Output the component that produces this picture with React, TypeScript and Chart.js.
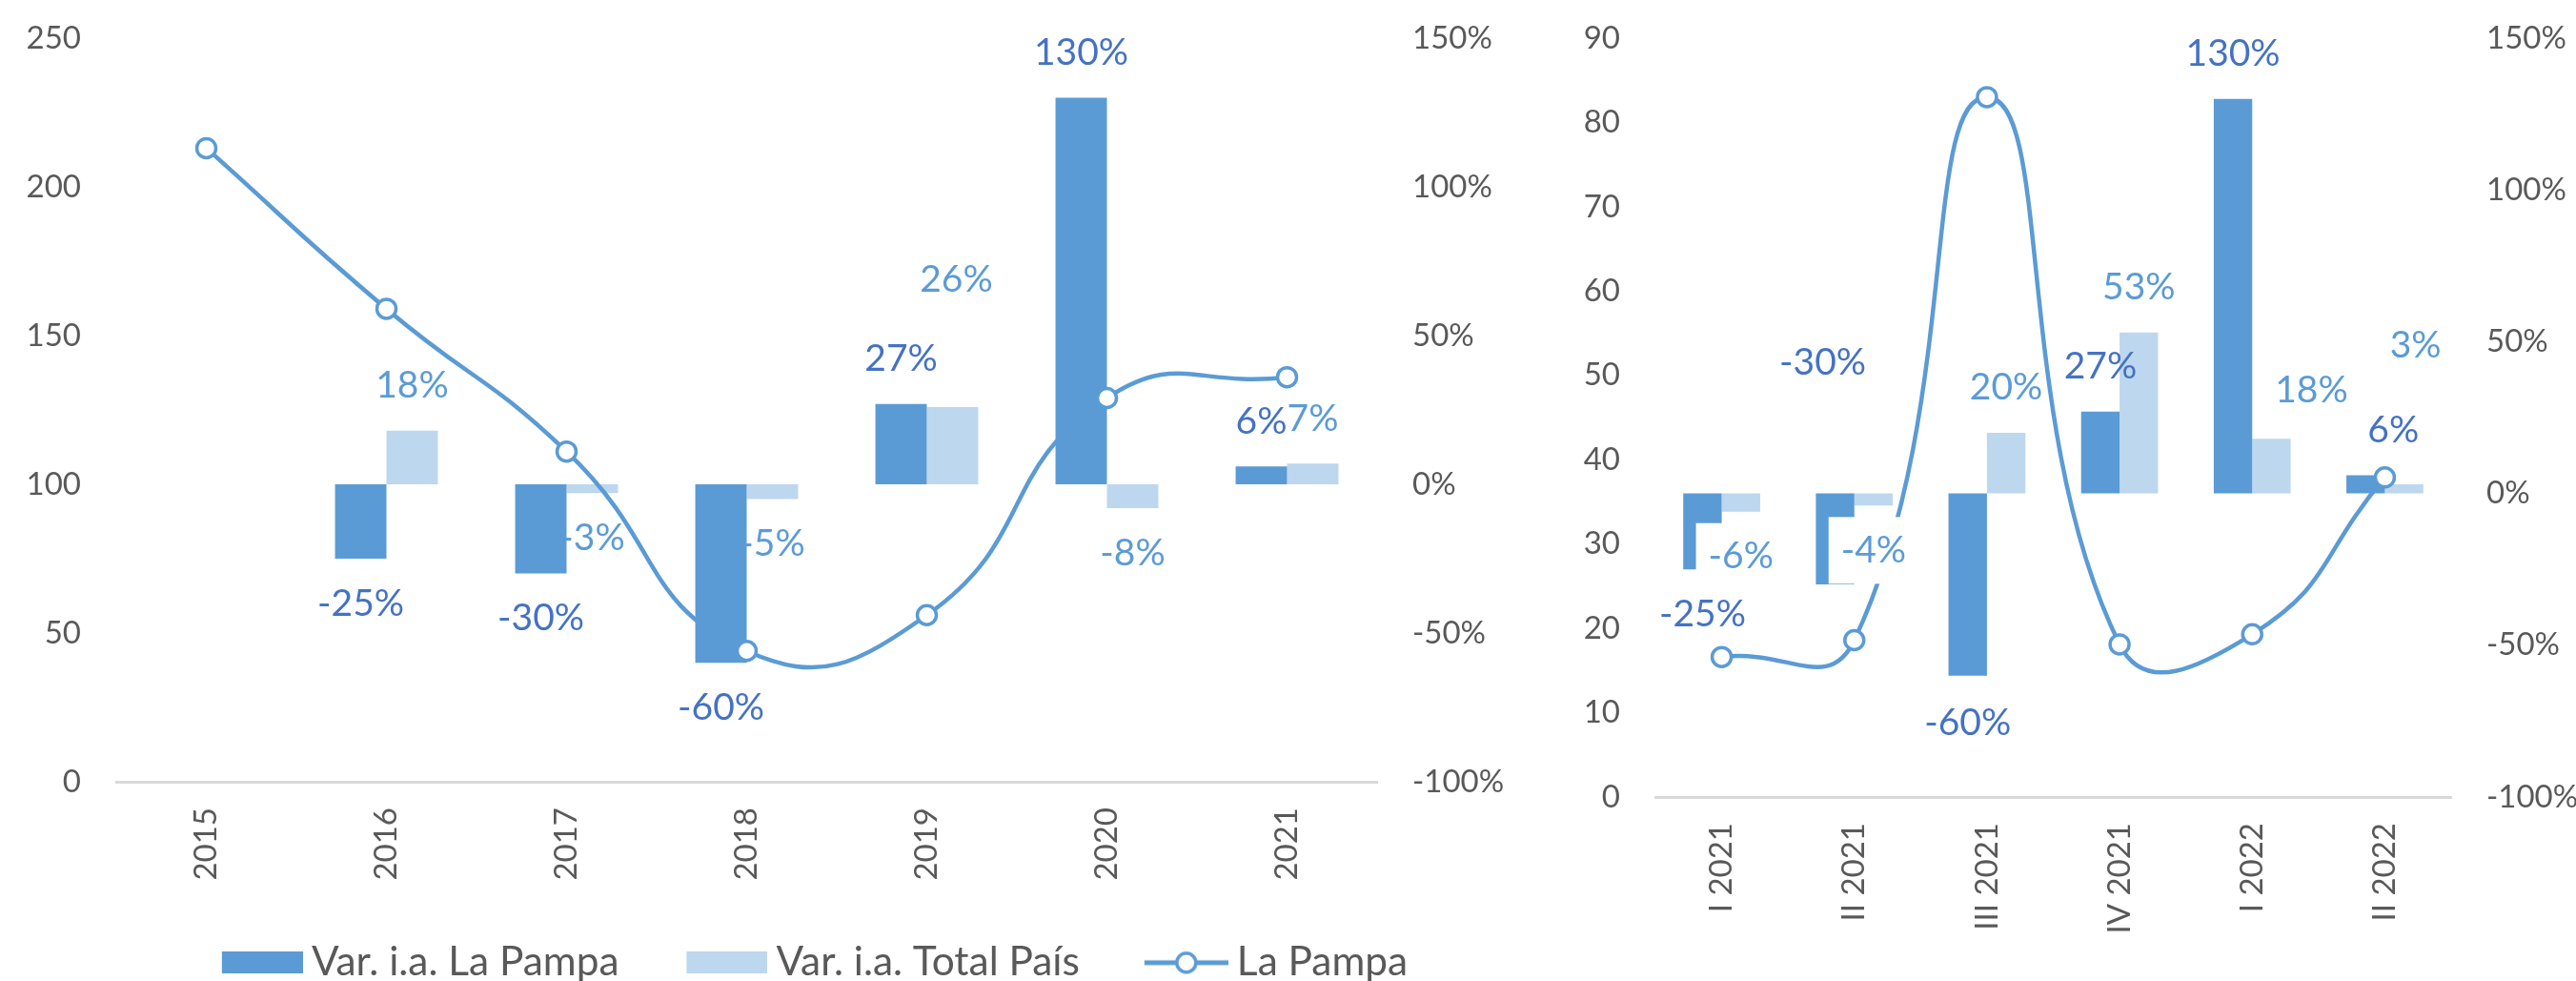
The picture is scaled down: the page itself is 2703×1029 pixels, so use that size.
import React, { useEffect, useRef } from 'react';
import { Chart, registerables } from 'chart.js';

Chart.register(...registerables);

// ---------- Data ----------
const YEARS = ['2015', '2016', '2017', '2018', '2019', '2020', '2021'];
const YEAR_VAR_LA_PAMPA = [null, -25, -30, -60, 27, 130, 6];
const YEAR_VAR_TOTAL_PAIS = [null, 18, -3, -5, 26, -8, 7];
const YEAR_LA_PAMPA = [213, 159, 111, 44, 56, 129, 136];

const QUARTERS = ['I 2021', 'II 2021', 'III 2021', 'IV 2021', 'I 2022', 'II 2022'];
const Q_VAR_LA_PAMPA = [-25, -30, -60, 27, 130, 6];
const Q_VAR_TOTAL_PAIS = [-6, -4, 20, 53, 18, 3];
const Q_LA_PAMPA = [16.6, 18.6, 83, 18.1, 19.3, 37.9];

const SERIES_NAMES = ['Var. i.a. La Pampa', 'Var. i.a. Total País', 'La Pampa'];

const YEAR_LEFT_AXIS = [0, 250, 50];
const Q_LEFT_AXIS = [0, 90, 10];
const PCT_AXIS = [-100, 150, 50];

// ---------- Style ----------
const DARK = '#5B9BD5';
const LIGHT = '#BDD7EE';
const DARK_LABEL = '#4472C4';
const LIGHT_LABEL = '#5B9BD5';
const TEXT = '#595959';
const AXIS = '#D9D9D9';
const FONT = 'Lato';

// legend geometry
const LEG_F = 42.4;
const LEG_P = 10;
const LEG_SWATCH_W = 85;
const LEG_SWATCH_H = 23;
const LEG_TEXT_GAP = 9;
const LEG_ITEM_GAP = 71;
const LEG_PSW = LEG_ITEM_GAP + LEG_SWATCH_W + LEG_TEXT_GAP - LEG_F / 2 - LEG_P;
const LEG_IMG_W = Math.round(LEG_PSW + LEG_F - 2 * LEG_TEXT_GAP);
const LEG_FIRST_LEFT = 233;

// label nudges (px) relative to the standard "outside end" position
const YEAR_DARK_NUDGE = [[0, 0], [0, 0], [0, 0], [0, 0], [0, 0], [0, 0], [0, 0]];
const YEAR_LIGHT_NUDGE = [[0, 0], [0, 0], [0, 0], [0, 0], [4, -86], [0, 0], [0, 0]];
const Q_DARK_NUDGE = [[0, 0], [-13, -280], [0, 3], [0, 0], [0, 0], [29, 0]];
const Q_LIGHT_NUDGE = [[0, 0], [0, 0], [0, 0], [0, 0], [42, -4], [12, -99]];

function makeLabelPlugin(cfg: any) {
  return {
    id: 'barLabels',
    afterDatasetsDraw(chart: any) {
      const ctx = chart.ctx;
      ctx.save();
      ctx.font = `${cfg.size}px ${FONT}`;
      ctx.textAlign = 'center';
      ctx.textBaseline = 'middle';
      for (const s of cfg.series) {
        const meta = chart.getDatasetMeta(s.index);
        const values = chart.data.datasets[s.index].data;
        meta.data.forEach((el: any, i: number) => {
          const v = values[i];
          if (v === null || v === undefined) return;
          const n = (s.nudges && s.nudges[i]) || [0, 0];
          const dir = v < 0 ? 1 : -1;
          const cx = el.x + n[0];
          const cy = el.y + dir * cfg.gap + n[1];
          const text = `${v}%`;
          if (s.boxNegative && v < 0) {
            const w = ctx.measureText(text).width;
            ctx.fillStyle = '#FFFFFF';
            ctx.fillRect(cx - w / 2 - 13, cy - 35, w + 26, 70);
          }
          ctx.fillStyle = s.color;
          ctx.fillText(text, cx, cy);
        });
      }
      ctx.restore();
    },
  };
}

function swatch(color: string) {
  const c = document.createElement('canvas');
  c.width = LEG_IMG_W;
  c.height = LEG_SWATCH_H;
  const g = c.getContext('2d')!;
  g.fillStyle = color;
  g.fillRect(LEG_IMG_W - LEG_SWATCH_W, 0, LEG_SWATCH_W, LEG_SWATCH_H);
  return c;
}

function lineSymbol() {
  const w = 88;
  const h = 26;
  const c = document.createElement('canvas');
  c.width = LEG_IMG_W;
  c.height = h;
  const g = c.getContext('2d')!;
  const x0 = LEG_IMG_W - w;
  g.strokeStyle = DARK;
  g.lineWidth = 5;
  g.beginPath();
  g.moveTo(x0, h / 2);
  g.lineTo(LEG_IMG_W, h / 2);
  g.stroke();
  g.beginPath();
  g.arc(x0 + w / 2, h / 2, 10, 0, Math.PI * 2);
  g.fillStyle = '#FFFFFF';
  g.fill();
  g.lineWidth = 3.5;
  g.stroke();
  return c;
}

function tickFont() {
  return { family: FONT, size: 33 };
}

function buildConfig(opts: any): any {
  const {
    labels, dark, light, line, leftAxis, leftWidth, rightWidth, xHeight,
    catPct, legend, darkNudge, lightNudge, boxNegative,
  } = opts;
  const legendImgs = [swatch(DARK), swatch(LIGHT), lineSymbol()];
  return {
    type: 'bar',
    data: {
      labels,
      datasets: [
        {
          type: 'bar', label: SERIES_NAMES[0], data: dark, backgroundColor: DARK,
          borderWidth: 0, yAxisID: 'y1', order: 1, barPercentage: 1, categoryPercentage: catPct,
        },
        {
          type: 'bar', label: SERIES_NAMES[1], data: light, backgroundColor: LIGHT,
          borderWidth: 0, yAxisID: 'y1', order: 2, barPercentage: 1, categoryPercentage: catPct,
        },
        {
          type: 'line', label: SERIES_NAMES[2], data: line, borderColor: DARK, borderWidth: 4.5,
          tension: 0.5, pointRadius: 10, pointHoverRadius: 10, pointBackgroundColor: '#FFFFFF',
          pointBorderColor: DARK, pointBorderWidth: 3.5, yAxisID: 'y', order: 0, fill: false,
        },
      ],
    },
    options: {
      responsive: false,
      animation: false,
      devicePixelRatio: 1,
      layout: { padding: { top: 40, left: 0, right: 0, bottom: 0 } },
      plugins: {
        tooltip: { enabled: false },
        legend: {
          display: legend,
          position: 'bottom',
          labels: {
            usePointStyle: true,
            pointStyleWidth: LEG_PSW,
            font: { family: FONT, size: LEG_F },
            color: TEXT,
            padding: LEG_P,
            sort: (a: any, b: any) => a.datasetIndex - b.datasetIndex,
            generateLabels: (chart: any) => {
              const items = (Chart as any).defaults.plugins.legend.labels.generateLabels(chart);
              return items.map((it: any) => ({ ...it, pointStyle: legendImgs[it.datasetIndex] }));
            },
          },
        },
      },
      scales: {
        x: {
          grid: { display: false, drawTicks: false },
          border: { display: true, color: AXIS, width: 3 },
          ticks: {
            font: tickFont(), color: TEXT, minRotation: 90, maxRotation: 90,
            padding: 27, autoSkip: false,
          },
          afterFit: (s: any) => {
            s.height = xHeight;
            s.paddingLeft = 0;
            s.paddingRight = 0;
          },
        },
        y: {
          position: 'left',
          min: leftAxis[0], max: leftAxis[1],
          grid: { display: false, drawTicks: false },
          border: { display: false },
          ticks: { stepSize: leftAxis[2], font: tickFont(), color: TEXT, padding: 37 },
          afterFit: (s: any) => {
            s.width = leftWidth;
            s.paddingTop = 0;
            s.paddingBottom = 0;
          },
        },
        y1: {
          position: 'right',
          min: PCT_AXIS[0], max: PCT_AXIS[1],
          grid: { display: false, drawTicks: false },
          border: { display: false },
          ticks: {
            stepSize: PCT_AXIS[2], font: tickFont(), color: TEXT, padding: 37,
            callback: (v: any) => `${v}%`,
          },
          afterFit: (s: any) => {
            s.width = rightWidth;
            s.paddingTop = 0;
            s.paddingBottom = 0;
          },
        },
      },
    },
    plugins: [
      makeLabelPlugin({
        size: 39,
        gap: 47,
        series: [
          { index: 0, color: DARK_LABEL, nudges: darkNudge },
          { index: 1, color: LIGHT_LABEL, nudges: lightNudge, boxNegative },
        ],
      }),
    ],
  };
}

const LEFT_PLOT_RIGHT = 1445;
const LEFT_H = 1041;
const RIGHT_X = 1620;
const RIGHT_W = 1083;
const RIGHT_H = 1029;

function leftCanvasWidth() {
  const m = document.createElement('canvas').getContext('2d')!;
  m.font = `${LEG_F}px ${FONT}`;
  const sumT = SERIES_NAMES.reduce((a, t) => a + m.measureText(t).width, 0);
  const x0 = LEG_FIRST_LEFT - (LEG_PSW / 2 + LEG_IMG_W / 2 - LEG_SWATCH_W);
  const w = 2 * x0 - LEG_P + 3 * (LEG_PSW + LEG_F / 2 + LEG_P) + sumT;
  return Math.max(Math.round(w), 1600);
}

export default function App() {
  const leftRef = useRef<HTMLCanvasElement>(null);
  const rightRef = useRef<HTMLCanvasElement>(null);

  useEffect(() => {
    const charts: any[] = [];
    let alive = true;
    const lc = leftRef.current!;
    const W = leftCanvasWidth();
    lc.width = W;
    lc.height = LEFT_H;
    lc.style.width = `${W}px`;
    lc.style.height = `${LEFT_H}px`;
    charts.push(new Chart(lc, buildConfig({
      labels: YEARS, dark: YEAR_VAR_LA_PAMPA, light: YEAR_VAR_TOTAL_PAIS, line: YEAR_LA_PAMPA,
      leftAxis: YEAR_LEFT_AXIS, leftWidth: 122, rightWidth: W - LEFT_PLOT_RIGHT,
      xHeight: LEFT_H - LEG_F - LEG_P - 10 - 820,
      catPct: 0.571, legend: true, darkNudge: YEAR_DARK_NUDGE, lightNudge: YEAR_LIGHT_NUDGE,
      boxNegative: false,
    })));
    charts.push(new Chart(rightRef.current!, buildConfig({
      labels: QUARTERS, dark: Q_VAR_LA_PAMPA, light: Q_VAR_TOTAL_PAIS, line: Q_LA_PAMPA,
      leftAxis: Q_LEFT_AXIS, leftWidth: 117, rightWidth: 131, xHeight: RIGHT_H - 836,
      catPct: 0.58, legend: false, darkNudge: Q_DARK_NUDGE, lightNudge: Q_LIGHT_NUDGE,
      boxNegative: true,
    })));
    const fonts: any = (document as any).fonts;
    if (fonts && fonts.load) {
      Promise.all([fonts.load(`33px ${FONT}`), fonts.load(`39px ${FONT}`)])
        .then(() => { if (alive) charts.forEach((c) => c.update('none')); })
        .catch(() => {});
    }
    return () => {
      alive = false;
      charts.forEach((c) => c.destroy());
    };
  }, []);

  return (
    <div style={{ position: 'absolute', left: 0, top: 0, width: 2703, height: 1029, overflow: 'hidden', background: '#FFFFFF' }}>
      <canvas
        ref={leftRef}
        width={1600}
        height={LEFT_H}
        style={{ position: 'absolute', left: 0, top: 0 }}
      />
      <canvas
        ref={rightRef}
        width={RIGHT_W}
        height={RIGHT_H}
        style={{ position: 'absolute', left: RIGHT_X, top: 0, width: RIGHT_W, height: RIGHT_H }}
      />
    </div>
  );
}
